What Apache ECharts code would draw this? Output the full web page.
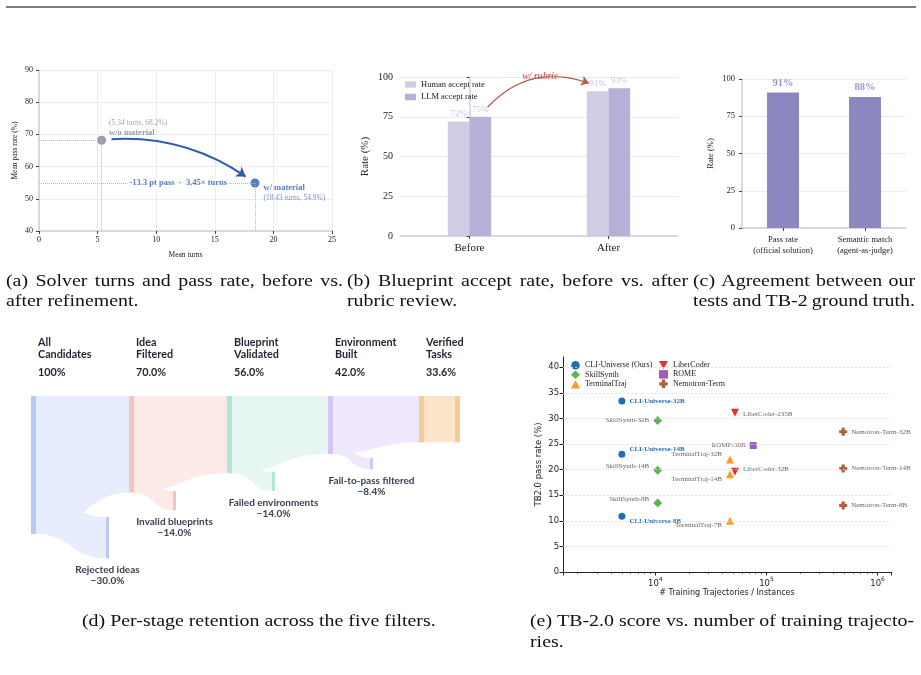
<!DOCTYPE html>
<html>
<head>
<meta charset="utf-8">
<script src="https://cdn.jsdelivr.net/npm/echarts@6/dist/echarts.min.js"></script>
<style>
  html, body { margin: 0; padding: 0; background: #fff; }
  #main { width: 921px; height: 675px; }
</style>
</head>
<body>
<div id="main"></div>
<script>
// (a) solver turns vs pass rate
const turnsLabels = ['w/o material', 'w/ material'];
const meanTurns = [5.34, 18.43];
const meanPass = [68.2, 54.9];

// (b) blueprint accept rate
const rubricCats = ['Before', 'After'];
const humanAccept = [72, 91];
const llmAccept = [75, 93];

// (c) agreement with TB-2
const agreeCats = ['Pass rate\n(official solution)', 'Semantic match\n(agent-as-judge)'];
const agreeRates = [91, 88];

// (d) per-stage retention
const stageNames = ['All\nCandidates', 'Idea\nFiltered', 'Blueprint\nValidated', 'Environment\nBuilt', 'Verified\nTasks'];
const stageValues = [100, 70.0, 56.0, 42.0, 33.6];
const dropNames = ['Rejected ideas', 'Invalid blueprints', 'Failed environments', 'Fail-to-pass filtered'];
const dropValues = [30.0, 14.0, 14.0, 8.4];

// (e) TB-2.0 vs training trajectories
const cliNames = ['CLI-Universe-32B', 'CLI-Universe-14B', 'CLI-Universe-8B'];
const cliTraj = [5000, 5000, 5000];
const cliScore = [33.4, 23.0, 10.9];
const skillNames = ['SkillSynth-32B', 'SkillSynth-14B', 'SkillSynth-8B'];
const skillTraj = [10500, 10500, 10500];
const skillScore = [29.6, 19.9, 13.5];
const termNames = ['TerminalTraj-32B', 'TerminalTraj-14B', 'TerminalTraj-7B'];
const termTraj = [47000, 47000, 47000];
const termScore = [22.0, 19.1, 10.0];
const liberNames = ['LiberCoder-235B', 'LiberCoder-32B'];
const liberTraj = [52000, 52000];
const liberScore = [31.1, 19.6];
const romeNames = ['ROME-30B'];
const romeTraj = [76000];
const romeScore = [24.7];
const nemoNames = ['Nemotron-Term-32B', 'Nemotron-Term-14B', 'Nemotron-Term-8B'];
const nemoTraj = [490000, 490000, 490000];
const nemoScore = [27.4, 20.2, 13.0];
const tbTicks = [5, 10, 15, 20, 25, 30, 35, 40];

const SERIF = '"Liberation Serif", "Times New Roman", serif';
const SANS = '"DejaVu Sans", sans-serif';
const FUNNEL_FONT = 'Lato, "Open Sans", sans-serif';

// layout for the funnel (px along the hidden x axis)
const stageCol = [0, 98, 196, 297, 388];
const dropCol = [75, 142, 241, 339];
const barColor = ['#b9c9f2', '#efc5bd', '#b3e4d8', '#d4c7f3', '#f4cc9b'];
const fillColor = ['#e7edfc', '#fbeae6', '#e6f6f2', '#f0e9fb', '#fce5c9'];

// label placement for (e)
const tbLabelPos = {
  'CLI-Universe-32B': ['right', 0], 'CLI-Universe-14B': ['right', -5], 'CLI-Universe-8B': ['right', 5],
  'SkillSynth-32B': ['left', 0], 'SkillSynth-14B': ['left', -4], 'SkillSynth-8B': ['left', -4],
  'TerminalTraj-32B': ['left', -5], 'TerminalTraj-14B': ['left', 5], 'TerminalTraj-7B': ['left', 4],
  'LiberCoder-235B': ['right', 1], 'LiberCoder-32B': ['right', -3],
  'ROME-30B': ['left', 0],
  'Nemotron-Term-32B': ['right', 0], 'Nemotron-Term-14B': ['right', 0], 'Nemotron-Term-8B': ['right', 0]
};

const chart = echarts.init(document.getElementById('main'), null, { renderer: 'canvas' });

function bez(x0, y0, x1, y1, n) {
  const pts = [];
  const xm = (x0 + x1) / 2;
  for (let k = 0; k <= n; k++) {
    const t = k / n, u = 1 - t;
    const x = u * u * u * x0 + 3 * u * u * t * xm + 3 * u * t * t * xm + t * t * t * x1;
    const y = u * u * u * y0 + 3 * u * u * t * y0 + 3 * u * t * t * y1 + t * t * t * y1;
    pts.push([x, y]);
  }
  return pts;
}

function renderStage(params, api) {
  const i = params.dataIndex;
  const v = api.value(1);
  const p = api.coord([stageCol[i], 0]);
  const x = p[0], top = p[1];
  const bot = api.coord([stageCol[i], v])[1];
  const NODE_W = 5, DROP_W = 3;
  const children = [];
  if (i < stageValues.length - 1) {
    const xn = api.coord([stageCol[i + 1], 0])[0];
    const bn = api.coord([stageCol[i + 1], stageValues[i + 1]])[1];
    const x0 = x + NODE_W;
    // continuing flow, tapering to the next stage
    children.push({
      type: 'polygon',
      shape: { points: [[x0, top], [xn, top]].concat(bez(x0, bot, xn, bn, 40).reverse()) },
      style: { fill: fillColor[i] }
    });
    // dropout flow
    const d = dropValues[i];
    const dTop = api.coord([0, v - d])[1];
    const h = bot - dTop;
    const off = 12 + 0.3 * h;
    const xd = api.coord([dropCol[i], 0])[0];
    children.push({
      type: 'polygon',
      shape: { points: bez(x0, dTop, xd, dTop + off, 40).concat(bez(x0, bot, xd, bot + off, 40).reverse()) },
      style: { fill: fillColor[i] }
    });
    children.push({
      type: 'rect',
      shape: { x: xd, y: dTop + off, width: DROP_W, height: h },
      style: { fill: barColor[i] }
    });
    children.push({
      type: 'text',
      style: {
        text: dropNames[i] + '\n\u2212' + d.toFixed(1) + '%',
        x: xd + DROP_W / 2, y: bot + off + 6,
        align: 'center', verticalAlign: 'top',
        fontFamily: FUNNEL_FONT, fontWeight: 'bold', fontSize: 10, lineHeight: 11,
        fill: '#3b4150'
      }
    });
  } else {
    children.push({
      type: 'rect',
      shape: { x: x + NODE_W, y: top, width: 31, height: bot - top },
      style: { fill: fillColor[i] }
    });
    children.push({
      type: 'rect',
      shape: { x: x + 36, y: top, width: NODE_W, height: bot - top },
      style: { fill: barColor[i] }
    });
  }
  children.push({
    type: 'rect',
    shape: { x: x, y: top, width: NODE_W, height: bot - top },
    style: { fill: barColor[i] }
  });
  children.push({
    type: 'text',
    style: {
      text: stageNames[i], x: x + 7, y: top - 59,
      align: 'left', verticalAlign: 'top',
      fontFamily: FUNNEL_FONT, fontWeight: 'bold', fontSize: 10.8, lineHeight: 12,
      fill: '#1f2430'
    }
  });
  children.push({
    type: 'text',
    style: {
      text: i === 0 ? '100%' : v.toFixed(1) + '%', x: x + 7, y: top - 23,
      align: 'left', verticalAlign: 'middle',
      fontFamily: FUNNEL_FONT, fontWeight: 'bold', fontSize: 10.8,
      fill: '#1f2430'
    }
  });
  return { type: 'group', children: children };
}

function tbSeries(name, names, traj, score, symbol, size, color, labelColor, bold) {
  return {
    name: name,
    type: 'scatter',
    xAxisIndex: 5, yAxisIndex: 4,
    symbol: symbol,
    symbolSize: size,
    itemStyle: { color: color, opacity: 1 },
    data: names.map((n, k) => ({
      name: n,
      value: [traj[k], score[k]],
      label: {
        show: true,
        formatter: '{b}',
        position: tbLabelPos[n][0],
        offset: [0, tbLabelPos[n][1]],
        distance: 4,
        fontFamily: SERIF,
        fontSize: 7,
        fontWeight: bold ? 'bold' : 'normal',
        color: labelColor
      }
    })),
    z: 3
  };
}

// caption lines; justified lines are spread word by word to the given width
const measureCtx = document.createElement('canvas').getContext('2d');
const CAP_FONT = '17px ' + SERIF;
const CAP_SCALE = 1.17;
function captionLine(text, x, y, width) {
  measureCtx.font = CAP_FONT;
  if (!width) {
    return [{ type: 'text', x: x, y: y, scaleX: CAP_SCALE, silent: true,
      style: { text: text, font: CAP_FONT, fill: '#111', verticalAlign: 'middle' } }];
  }
  const words = text.split(' ');
  const widths = words.map(w => measureCtx.measureText(w).width * CAP_SCALE);
  const total = widths.reduce((a, b) => a + b, 0);
  const gap = (width - total) / (words.length - 1);
  const out = [];
  let cx = x;
  words.forEach((w, k) => {
    out.push({ type: 'text', x: cx, y: y, scaleX: CAP_SCALE, silent: true,
      style: { text: w, font: CAP_FONT, fill: '#111', verticalAlign: 'middle' } });
    cx += widths[k] + gap;
  });
  return out;
}

const invTri = 'path://M0,0L10,0L5,9Z';
const plus = 'path://M3,0H7V3H10V7H7V10H3V7H0V3H3Z';

const axisSoft = { show: true, lineStyle: { color: '#c8d0e3', width: 1.5 } };
const tickDark = { show: true, length: 3, lineStyle: { color: '#444', width: 1 } };

const option = {
  backgroundColor: '#ffffff',
  animation: false,
  grid: [
    { left: 39, top: 70, width: 293, height: 161 },
    { left: 400, top: 77, width: 278, height: 159 },
    { left: 742, top: 79, width: 164, height: 149 },
    { left: 31, top: 396, width: 429, height: 138 },
    { left: 563, top: 357, width: 328, height: 215 }
  ],
  legend: [
    {
      data: ['Human accept rate', 'LLM accept rate'],
      left: 405, top: 80, orient: 'vertical', padding: 0,
      itemWidth: 11, itemHeight: 6.5, itemGap: 3.5, itemTextGap: 4,
      icon: 'rect',
      textStyle: { fontFamily: SERIF, fontSize: 8.5, color: '#222' }
    },
    {
      data: [
        { name: 'CLI-Universe (Ours)', icon: 'circle' },
        { name: 'SkillSynth', icon: 'diamond' },
        { name: 'TerminalTraj', icon: 'triangle' }
      ],
      left: 571, top: 361, orient: 'vertical', padding: 0,
      itemWidth: 9, itemHeight: 8.5, itemGap: 1, itemTextGap: 4,
      textStyle: { fontFamily: SERIF, fontSize: 8, color: '#222' }
    },
    {
      data: [
        { name: 'LiberCoder', icon: invTri },
        { name: 'ROME', icon: 'rect' },
        { name: 'Nemotron-Term', icon: plus }
      ],
      left: 659, top: 361, orient: 'vertical', padding: 0,
      itemWidth: 9, itemHeight: 8.5, itemGap: 1, itemTextGap: 4,
      textStyle: { fontFamily: SERIF, fontSize: 8, color: '#222' }
    }
  ],
  xAxis: [
    {
      gridIndex: 0, type: 'value', min: 0, max: 25, interval: 5,
      name: 'Mean turns', nameLocation: 'middle', nameGap: 20,
      nameTextStyle: { fontFamily: SERIF, fontSize: 7.5, color: '#222' },
      axisLine: axisSoft, axisTick: tickDark,
      axisLabel: { fontFamily: SERIF, fontSize: 8, color: '#222', margin: 5 },
      splitLine: { show: true, lineStyle: { color: '#e9ecf3' } }
    },
    {
      gridIndex: 1, type: 'category', data: rubricCats,
      axisLine: axisSoft, axisTick: { show: true, alignWithLabel: true, length: 3, lineStyle: { color: '#444' } },
      axisLabel: { fontFamily: SERIF, fontSize: 11, color: '#222', margin: 7 }
    },
    { gridIndex: 1, type: 'value', min: -0.5, max: 1.5, show: false },
    {
      gridIndex: 2, type: 'category', data: agreeCats,
      axisLine: axisSoft, axisTick: { show: true, alignWithLabel: true, length: 3, lineStyle: { color: '#444' } },
      axisLabel: { fontFamily: SERIF, fontSize: 8.5, color: '#222', margin: 7, lineHeight: 10.5 }
    },
    { gridIndex: 3, type: 'value', min: 0, max: 429, show: false },
    {
      gridIndex: 4, type: 'log', logBase: 10, min: 1476, max: 1320000,
      name: '# Training Trajectories / Instances', nameLocation: 'middle', nameGap: 17,
      nameTextStyle: { fontFamily: SANS, fontSize: 8, color: '#222' },
      axisLine: { lineStyle: { color: '#222', width: 1 } },
      axisTick: { show: true, length: 3.5, lineStyle: { color: '#222' } },
      minorTick: { show: true, splitNumber: 9, length: 2, lineStyle: { color: '#222', width: 0.6 } },
      axisLabel: {
        margin: 4,
        formatter: function (val) {
          const e = Math.log10(val);
          if (Math.abs(e - Math.round(e)) > 1e-6) return '';
          return '{b|10}{s|' + Math.round(e) + '}';
        },
        rich: {
          b: { fontFamily: SANS, fontSize: 8.5, color: '#222', lineHeight: 12, verticalAlign: 'bottom' },
          s: { fontFamily: SANS, fontSize: 6, color: '#222', lineHeight: 12, verticalAlign: 'top' }
        }
      },
      splitLine: { show: false }
    }
  ],
  yAxis: [
    {
      gridIndex: 0, type: 'value', min: 40, max: 90, interval: 10,
      name: 'Mean pass rate (%)', nameLocation: 'middle', nameGap: 20,
      nameTextStyle: { fontFamily: SERIF, fontSize: 7.5, color: '#222' },
      axisLine: axisSoft, axisTick: tickDark,
      axisLabel: { fontFamily: SERIF, fontSize: 8, color: '#222', margin: 6 },
      splitLine: { show: true, lineStyle: { color: '#e9ecf3' } }
    },
    {
      gridIndex: 1, type: 'value', min: 0, max: 100, interval: 25,
      name: 'Rate (%)', nameLocation: 'middle', nameGap: 29,
      nameTextStyle: { fontFamily: SERIF, fontSize: 11, color: '#222' },
      axisLine: axisSoft, axisTick: tickDark,
      axisLabel: { fontFamily: SERIF, fontSize: 10, color: '#222', margin: 7 },
      splitLine: { show: true, lineStyle: { color: '#e8eaf4' } }
    },
    {
      gridIndex: 2, type: 'value', min: 0, max: 100, interval: 25,
      name: 'Rate (%)', nameLocation: 'middle', nameGap: 27,
      nameTextStyle: { fontFamily: SERIF, fontSize: 8.5, color: '#222' },
      axisLine: axisSoft, axisTick: tickDark,
      axisLabel: { fontFamily: SERIF, fontSize: 8.5, color: '#222', margin: 7 },
      splitLine: { show: true, lineStyle: { color: '#e8eaf4' } }
    },
    { gridIndex: 3, type: 'value', min: 0, max: 100, inverse: true, show: false },
    {
      gridIndex: 4, type: 'value', min: 0, max: 42, interval: 5,
      name: 'TB2.0 pass rate (%)', nameLocation: 'middle', nameGap: 20,
      nameTextStyle: { fontFamily: SANS, fontSize: 8.5, color: '#222' },
      axisLine: { show: true, lineStyle: { color: '#222', width: 1 } },
      axisTick: { show: true, length: 3.5, lineStyle: { color: '#222' } },
      axisLabel: { fontFamily: SANS, fontSize: 8.4, color: '#222', margin: 4, showMaxLabel: false },
      splitLine: { show: false }
    }
  ],
  series: [
    // (a)
    {
      name: turnsLabels[0], type: 'scatter', xAxisIndex: 0, yAxisIndex: 0,
      symbolSize: 9, itemStyle: { color: '#7c8596' },
      data: [[meanTurns[0], meanPass[0]]],
      label: {
        show: true, position: 'right', distance: 3, offset: [0, -12],
        formatter: '{s|(' + meanTurns[0] + ' turns, ' + meanPass[0] + '%)}\n{b|' + turnsLabels[0] + '}',
        rich: {
          s: { fontFamily: SERIF, fontSize: 7.5, color: '#8b909c', lineHeight: 10 },
          b: { fontFamily: SERIF, fontSize: 8.5, fontWeight: 'bold', color: '#7c8596', lineHeight: 10 }
        }
      },
      markLine: {
        silent: true, symbol: 'none', label: { show: false },
        lineStyle: { type: 'dotted', color: '#b3bacb', width: 1 },
        data: [
          [{ coord: [0, meanPass[0]] }, { coord: [meanTurns[0], meanPass[0]] }],
          [{ coord: [meanTurns[0], meanPass[0]] }, { coord: [meanTurns[0], 40] }]
        ]
      },
      z: 4
    },
    {
      name: turnsLabels[1], type: 'scatter', xAxisIndex: 0, yAxisIndex: 0,
      symbolSize: 9, itemStyle: { color: '#2c5cad' },
      data: [[meanTurns[1], meanPass[1]]],
      label: {
        show: true, position: 'right', distance: 4, offset: [0, 10],
        formatter: '{b|' + turnsLabels[1] + '}\n{s|(' + meanTurns[1] + ' turns, ' + meanPass[1] + '%)}',
        rich: {
          s: { fontFamily: SERIF, fontSize: 7.5, color: '#4c74bd', lineHeight: 10 },
          b: { fontFamily: SERIF, fontSize: 8.5, fontWeight: 'bold', color: '#2c5cad', lineHeight: 10 }
        }
      },
      markLine: {
        silent: true, symbol: 'none', label: { show: false },
        lineStyle: { type: 'dotted', color: '#a3b6de', width: 1 },
        data: [
          [{ coord: [0, meanPass[1]] }, { coord: [meanTurns[1], meanPass[1]] }],
          [{ coord: [meanTurns[1], meanPass[1]] }, { coord: [meanTurns[1], 40] }]
        ]
      },
      z: 4
    },
    {
      type: 'scatter', xAxisIndex: 0, yAxisIndex: 0, symbolSize: 1,
      itemStyle: { color: 'rgba(0,0,0,0)' },
      data: [[(meanTurns[0] + meanTurns[1]) / 2, meanPass[1]]],
      label: {
        show: true, position: 'inside',
        formatter: (meanPass[1] - meanPass[0]).toFixed(1) + ' pt pass  \u00b7  ' + (meanTurns[1] / meanTurns[0]).toFixed(2) + '\u00d7 turns',
        fontFamily: SERIF, fontSize: 8.5, fontWeight: 'bold', color: '#2c5cad',
        backgroundColor: '#fff', padding: [1, 2]
      },
      z: 5
    },
    {
      type: 'lines', coordinateSystem: 'cartesian2d', xAxisIndex: 0, yAxisIndex: 0,
      symbol: ['none', 'arrow'], symbolSize: [0, 9],
      lineStyle: { color: '#2c5cad', width: 2, curveness: 0.17, opacity: 1 },
      data: [{ coords: [[meanTurns[0] + 0.85, meanPass[0] + 0.3], [meanTurns[1] - 0.8, meanPass[1] + 2]] }],
      z: 4
    },
    // (b)
    {
      name: 'Human accept rate', type: 'bar', xAxisIndex: 1, yAxisIndex: 1,
      data: humanAccept, barWidth: '15.6%', barGap: '0%',
      itemStyle: { color: '#d0cce4' },
      label: { show: true, position: 'top', distance: 3, formatter: '{c}%', fontFamily: SERIF, fontSize: 9, color: '#c9c5e2' }
    },
    {
      name: 'LLM accept rate', type: 'bar', xAxisIndex: 1, yAxisIndex: 1,
      data: llmAccept, barWidth: '15.6%', barGap: '0%',
      itemStyle: { color: '#b6b1d6' },
      label: { show: true, position: 'top', distance: 3, formatter: '{c}%', fontFamily: SERIF, fontSize: 9, color: '#c9c5e2' }
    },
    {
      type: 'lines', coordinateSystem: 'cartesian2d', xAxisIndex: 2, yAxisIndex: 1,
      symbol: ['none', 'arrow'], symbolSize: [0, 8],
      lineStyle: { color: '#b85a50', width: 1.3, curveness: 0.33, opacity: 1 },
      data: [{ coords: [[0.13, llmAccept[0] + 6], [0.86, humanAccept[1] + 5]] }],
      z: 4
    },
    {
      type: 'scatter', xAxisIndex: 2, yAxisIndex: 1, symbolSize: 1,
      itemStyle: { color: 'rgba(0,0,0,0)' },
      data: [[0.51, 100]],
      label: {
        show: true, position: 'inside', formatter: 'w/ rubric',
        fontFamily: SERIF, fontSize: 9.5, fontWeight: 'bold', fontStyle: 'italic', color: '#b5544b'
      }
    },
    // (c)
    {
      type: 'bar', xAxisIndex: 3, yAxisIndex: 2,
      data: agreeRates, barWidth: '39%',
      itemStyle: { color: '#8c88bf' },
      label: { show: true, position: 'top', distance: 4, formatter: '{c}%', fontFamily: SERIF, fontSize: 10.5, fontWeight: 'bold', color: '#9a96cc' }
    },
    // (d)
    {
      type: 'custom', xAxisIndex: 4, yAxisIndex: 3,
      clip: false, silent: true,
      renderItem: renderStage,
      data: stageValues.map((v, i) => [i, v])
    },
    // (e)
    Object.assign(tbSeries('CLI-Universe (Ours)', cliNames, cliTraj, cliScore, 'circle', 7, '#1f6fb4', '#1f6fb4', true), {
      markLine: {
        silent: true, symbol: 'none', label: { show: false },
        lineStyle: { type: [2, 2], color: '#dcdcdc', width: 0.8 },
        data: tbTicks.map(v => ({ yAxis: v }))
      }
    }),
    tbSeries('SkillSynth', skillNames, skillTraj, skillScore, 'diamond', 9, '#5cb552', '#666', false),
    tbSeries('TerminalTraj', termNames, termTraj, termScore, 'triangle', 8, '#ff9a26', '#666', false),
    tbSeries('LiberCoder', liberNames, liberTraj, liberScore, invTri, 8, '#e3342c', '#666', false),
    tbSeries('ROME', romeNames, romeTraj, romeScore, 'rect', 7, '#a05db3', '#666', false),
    tbSeries('Nemotron-Term', nemoNames, nemoTraj, nemoScore, plus, 8, '#a9643d', '#666', false)
  ],
  graphic: [
    { type: 'line', shape: { x1: 6, y1: 7, x2: 916, y2: 7 }, style: { stroke: '#555', lineWidth: 1.5 }, silent: true }
  ].concat(
    captionLine('(a) Solver turns and pass rate, before vs.', 6, 282, 337),
    captionLine('after refinement.', 6, 302),
    captionLine('(b) Blueprint accept rate, before vs. after', 347, 282, 341),
    captionLine('rubric review.', 347, 302),
    captionLine('(c) Agreement between our', 693, 282, 222),
    captionLine('tests and TB-2 ground truth.', 693, 302, 222),
    captionLine('(d) Per-stage retention across the five filters.', 82, 622),
    captionLine('(e) TB-2.0 score vs. number of training trajecto-', 530, 622, 384),
    captionLine('ries.', 530, 643)
  )
};

chart.setOption(option);
</script>
</body>
</html>
